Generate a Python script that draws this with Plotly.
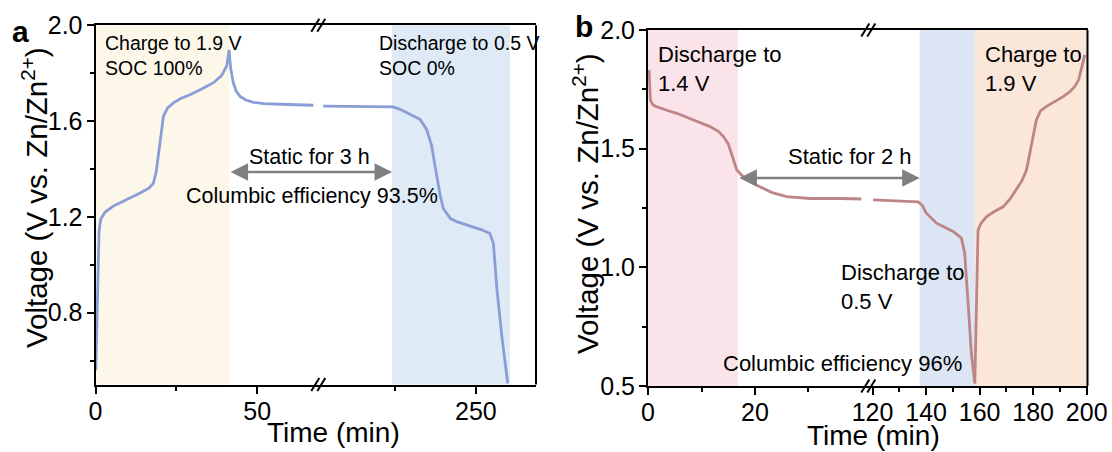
import plotly.graph_objects as go

W, H = 1112, 452
FONT = "Liberation Sans, Arial, sans-serif"

# ---------------- data: panel a ----------------
a_seg1_t = [0.1, 0.6, 1.1, 1.6, 3.0, 5.5, 9.5, 13.8, 16.5, 17.9, 18.8, 19.6, 20.3, 21.0,
            22.3, 24.1, 26.5, 29.2, 33.0, 36.5, 39.0, 40.6, 41.3,
            41.8, 42.6, 43.5, 44.7, 46.5, 48.8, 52.0, 57.0, 62.0, 67.4]
a_seg1_v = [0.56, 0.90, 1.14, 1.19, 1.22, 1.245, 1.27, 1.30, 1.32, 1.34, 1.39, 1.47, 1.56, 1.62,
            1.655, 1.676, 1.695, 1.71, 1.735, 1.76, 1.79, 1.83, 1.897,
            1.82, 1.76, 1.725, 1.703, 1.688, 1.678, 1.673, 1.67, 1.668, 1.666]
a_seg2_t = [203.0, 210.0, 218.0, 224.5, 226.5, 228.7, 230.8, 232.8, 234.8, 236.4, 237.4, 238.3,
            239.0, 240.0, 242.2, 244.1, 246.5, 249.2, 252.0, 254.3, 255.4, 256.4, 258.0, 259.8]
a_seg2_v = [1.662, 1.661, 1.66, 1.659, 1.65, 1.634, 1.62, 1.607, 1.566, 1.497, 1.414, 1.34,
            1.29, 1.234, 1.193, 1.18, 1.17, 1.159, 1.145, 1.131, 1.09, 0.909, 0.70, 0.505]

# ---------------- data: panel b ----------------
b_seg1_t = [0.2, 0.45, 0.9, 1.6, 3.5, 5.4, 8.5, 11.6, 13.2, 14.1, 15.0, 15.6, 16.1, 16.6,
            17.8, 19.2, 20.9, 23.2, 25.9, 30.3, 35.9, 39.9]
b_seg1_v = [1.831, 1.705, 1.685, 1.677, 1.662, 1.649, 1.621, 1.593, 1.572, 1.551, 1.52, 1.48,
            1.445, 1.41, 1.382, 1.36, 1.34, 1.315, 1.298, 1.29, 1.29, 1.288]
b_seg2_t = [120.2, 125.0, 130.0, 134.0, 137.0, 138.5, 140.1, 143.9, 147.0, 150.1, 153.2, 154.4,
            155.7, 156.9, 158.2, 158.6, 159.0, 159.4, 160.5, 162.5, 165.5, 168.8, 171.5, 173.7,
            175.8, 177.5, 179.4, 181.2, 182.8, 184.9, 188.0, 191.2, 193.5, 195.5, 197.0, 198.0, 199.3]
b_seg2_v = [1.284, 1.282, 1.28, 1.278, 1.276, 1.262, 1.228, 1.186, 1.168, 1.151, 1.123, 1.06,
            0.849, 0.638, 0.51, 0.75, 1.0, 1.157, 1.185, 1.213, 1.235, 1.255, 1.29, 1.326,
            1.365, 1.41, 1.523, 1.621, 1.66, 1.677, 1.698, 1.719, 1.738, 1.761, 1.79, 1.831, 1.895]

# stage boundaries (min)
a_charge_end = 41.3
a_discharge_start = 224.2
a_discharge_end = 260.5
b_discharge1_end = 16.8
b_discharge2_start = 137.6
b_charge_start = 158.2
b_charge_end = 200.3
a_arrow_v = 1.387
b_arrow_v = 1.376

# ticks
a_x1_ticks, a_x1_minor = [0, 50], [25]
a_x2_ticks, a_x2_minor = [250], [225]
a_y_ticks, a_y_minor = [0.8, 1.2, 1.6, 2.0], [0.6, 1.0, 1.4, 1.8]
b_x1_ticks, b_x1_minor = [0, 20], [10, 30]
b_x2_ticks, b_x2_minor = [120, 140, 160, 180, 200], [130, 150, 170, 190]
b_y_ticks, b_y_minor = [0.5, 1.0, 1.5, 2.0], [0.75, 1.25, 1.75]

# ---------------- layout geometry (pixels) ----------------
A_X1, A_X2, A_Y = (95.5, 318.3), (318.3, 536.0), (384.6, 25.2)
B_X1, B_X2, B_Y = (648.0, 868.3), (868.3, 1087.5), (386.0, 30.0)
A_R1, A_R2 = [0, 68.9], [201.5, 268.5]
B_R1, B_R2 = [0, 41.18], [118.4, 200.3]
Y_R = [0.5, 2.0]


def PX(x):
    return x / W


def PY(y):
    return 1 - y / H


def t2px(t, dom, rng):
    return dom[0] + (t - rng[0]) / (rng[1] - rng[0]) * (dom[1] - dom[0])


LINE_A = "#8a9dd6"
LINE_B = "#bd8585"

fig = go.Figure()
fig.add_trace(go.Scatter(x=a_seg1_t, y=a_seg1_v, xaxis="x", yaxis="y", mode="lines",
                         line=dict(color=LINE_A, width=2.8), showlegend=False))
fig.add_trace(go.Scatter(x=a_seg2_t, y=a_seg2_v, xaxis="x2", yaxis="y", mode="lines",
                         line=dict(color=LINE_A, width=2.8), showlegend=False))
fig.add_trace(go.Scatter(x=b_seg1_t, y=b_seg1_v, xaxis="x3", yaxis="y2", mode="lines",
                         line=dict(color=LINE_B, width=2.8), showlegend=False))
fig.add_trace(go.Scatter(x=b_seg2_t, y=b_seg2_v, xaxis="x4", yaxis="y2", mode="lines",
                         line=dict(color=LINE_B, width=2.8), showlegend=False))


def axis(dom, rng, ticks, minor, anchor, is_y=False):
    d = dict(domain=[PY(dom[0]), PY(dom[1])] if is_y else [PX(dom[0]), PX(dom[1])],
             range=rng, anchor=anchor, showline=True, linecolor="black", linewidth=2,
             mirror=True, ticks="outside", ticklen=7, tickwidth=2, tickcolor="black",
             tickvals=ticks, ticktext=[("%.1f" % v) if is_y else str(v) for v in ticks],
             showgrid=False, zeroline=False, automargin=False,
             ticklabelstandoff=-1 if is_y else -4,
             tickfont=dict(family=FONT, size=25, color="black"),
             minor=dict(tickvals=minor, ticks="outside", ticklen=4, tickwidth=2,
                        tickcolor="black", showgrid=False))
    return d


fig.update_layout(
    width=W, height=H, margin=dict(l=0, r=0, t=0, b=0, autoexpand=False),
    paper_bgcolor="white", plot_bgcolor="rgba(0,0,0,0)",
    font=dict(family=FONT, color="black"),
    xaxis=axis(A_X1, A_R1, a_x1_ticks, a_x1_minor, "y"),
    xaxis2=axis(A_X2, A_R2, a_x2_ticks, a_x2_minor, "y"),
    xaxis3=axis(B_X1, B_R1, b_x1_ticks, b_x1_minor, "y2"),
    xaxis4=axis(B_X2, B_R2, b_x2_ticks, b_x2_minor, "y2"),
    yaxis=axis(A_Y, Y_R, a_y_ticks, a_y_minor, "x", is_y=True),
    yaxis2=axis(B_Y, Y_R, b_y_ticks, b_y_minor, "x3", is_y=True),
)
# y axes: only left line (right side drawn as shape)
fig.update_layout(yaxis_mirror=False, yaxis2_mirror=False)

shapes = []
# shaded stages
shapes += [
    dict(type="rect", xref="x", yref="y domain", x0=0, x1=a_charge_end, y0=0, y1=1,
         fillcolor="#fdf7ea", line_width=0, layer="below"),
    dict(type="rect", xref="x2", yref="y domain", x0=a_discharge_start, x1=a_discharge_end,
         y0=0, y1=1, fillcolor="#deeaf6", line_width=0, layer="below"),
    dict(type="rect", xref="x3", yref="y2 domain", x0=0, x1=b_discharge1_end, y0=0, y1=1,
         fillcolor="#fbe3ea", line_width=0, layer="below"),
    dict(type="rect", xref="x4", yref="y2 domain", x0=b_discharge2_start, x1=b_charge_start,
         y0=0, y1=1, fillcolor="#dce5f3", line_width=0, layer="below"),
    dict(type="rect", xref="x4", yref="y2 domain", x0=b_charge_start, x1=b_charge_end,
         y0=0, y1=1, fillcolor="#fbe6da", line_width=0, layer="below"),
]
# right frame lines
for xd, yd in ((A_X2, A_Y), (B_X2, B_Y)):
    shapes.append(dict(type="line", xref="paper", yref="paper", x0=PX(xd[1]), x1=PX(xd[1]),
                       y0=PY(yd[0]), y1=PY(yd[1]), line=dict(color="black", width=2)))
# axis-break marks
for xb, yd in ((A_X1[1], A_Y), (B_X1[1], B_Y)):
    for yy in yd:
        for off in (-3.0, 3.0):
            shapes.append(dict(type="line", xref="paper", yref="paper",
                               x0=PX(xb + off - 4), y0=PY(yy + 6.5),
                               x1=PX(xb + off + 4), y1=PY(yy - 6.5),
                               line=dict(color="black", width=2)))
fig.update_layout(shapes=shapes)

ann = []


def text(x, y, s, size, xanchor="left", yanchor="middle", bold=False, angle=0):
    ann.append(dict(x=PX(x), y=PY(y), xref="paper", yref="paper", text=s, showarrow=False,
                    xanchor=xanchor, yanchor=yanchor, align="left", textangle=angle,
                    font=dict(family=FONT, size=size, color="black",
                              weight="bold" if bold else "normal")))


def arrow(t0, dom0, rng0, t1, dom1, rng1, v, yref):
    p0 = t2px(t0, dom0, rng0)
    p1 = t2px(t1, dom1, rng1)
    ann.append(dict(x=PX(p1), y=v, xref="paper", yref=yref, ax=p0 - p1, ay=0,
                    axref="pixel", ayref="pixel", text="", showarrow=True, arrowhead=2,
                    arrowside="end+start", arrowsize=1.4, arrowwidth=2.5,
                    arrowcolor="#808080", standoff=0, startstandoff=0))


arrow(a_charge_end, A_X1, A_R1, a_discharge_start, A_X2, A_R2, a_arrow_v, "y")
arrow(b_discharge1_end, B_X1, B_R1, b_discharge2_start, B_X2, B_R2, b_arrow_v, "y2")

# panel a texts
text(103, 56, "Charge to 1.9 V<br>SOC 100%", 19.5)
text(377, 56, "Discharge to 0.5 V<br>SOC 0%", 19.5)
text(309.5, 157, "Static for 3 h", 21.5, xanchor="center")
text(312.5, 196, "Columbic efficiency 93.5%", 21.5, xanchor="center")
# panel b texts
text(656, 68.5, "Discharge to<br>1.4 V", 22)
text(983, 68.5, "Charge to<br>1.9 V", 22)
text(850, 157, "Static for 2 h", 22, xanchor="center")
text(839, 286.5, "Discharge to<br>0.5 V", 22)
text(842.5, 363, "Columbic efficiency 96%", 22, xanchor="center")
# panel labels
text(20, 31.5, "a", 30, xanchor="center", bold=True)
text(583.5, 26.5, "b", 30, xanchor="center", bold=True)
# axis titles
text(333, 432, "Time (min)", 28, xanchor="center")
text(873, 435, "Time (min)", 28, xanchor="center")
text(34, 198, "Voltage (V vs. Zn/Zn<sup>2+</sup>)", 29.5, xanchor="center", angle=-90)
text(585, 204, "Voltage (V vs. Zn/Zn<sup>2+</sup>)", 29.5, xanchor="center", angle=-90)

fig.update_layout(annotations=ann)
fig.write_html("out.html")
